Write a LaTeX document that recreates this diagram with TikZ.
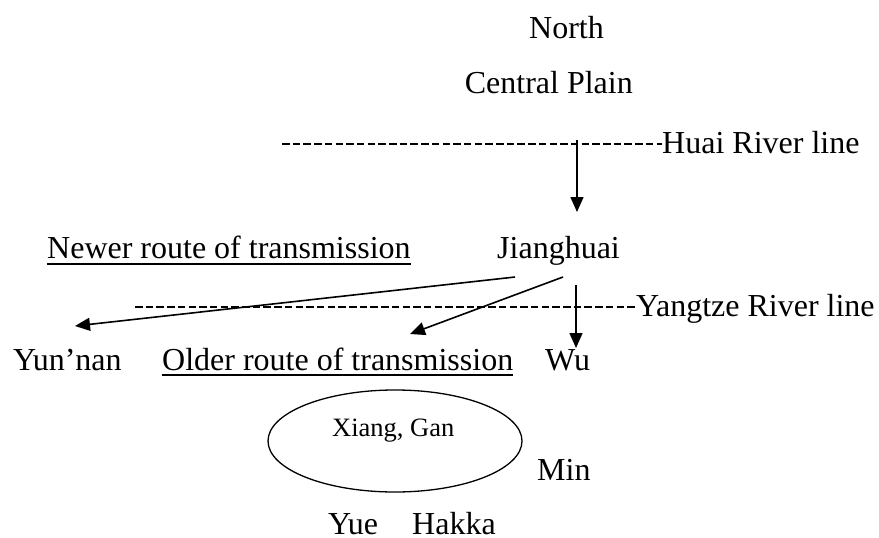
\documentclass[tikz,border=0pt]{standalone}
\usepackage{fontspec}
\setmainfont{Liberation Serif}
\usetikzlibrary{arrows.meta, shapes.geometric}

\begin{document}
\begin{tikzpicture}[x=1pt, y=-1pt,
  lbl/.style={anchor=base west, inner sep=0pt, font=\fontsize{32}{38}\selectfont},
  river/.style={line width=2pt, dash pattern=on 7.5pt off 3.2pt},
  uline/.style={line width=1.8pt},
  arr/.style={line width=1.6pt, -{Triangle[width=13pt,length=15pt]}},
  area/.style={ellipse, draw, line width=1.3pt, minimum width=254pt, minimum height=102pt, inner sep=0pt}
]
  \useasboundingbox (0,0) rectangle (879,538);

  % North
  \node[lbl] (north) at (529, 38) {North};
  \node[lbl, anchor=base east] (plain) at (633, 93) {Central Plain};

  % Huai River
  \coordinate (huaistart) at (282, 144);
  \node[lbl] (huai) at (662, 153) {Huai River line};
  \draw[river] (huaistart) -- (huai.west |- huaistart);

  % Jianghuai
  \node[lbl] (newer) at (47, 258) {Newer route of transmission};
  \draw[uline] ([yshift=-6pt]newer.base west) -- ([yshift=-6pt]newer.base east);
  \node[lbl] (jh) at (497, 258) {Jianghuai};
  \coordinate (huaidown) at (577, 140);
  \coordinate (jhtop) at (577, 212);
  \draw[arr] (huaidown) -- (jhtop);

  % Yangtze River
  \coordinate (yzstart) at (135, 307);
  \node[lbl] (yangtze) at (636, 316) {Yangtze River line};
  \draw[river] (yzstart) -- (yangtze.west |- yzstart);

  % South
  \node[lbl] (yunnan) at (13, 370) {Yun’nan};
  \node[lbl] (older) at (162, 370) {Older route of transmission};
  \draw[uline] ([yshift=-5pt]older.base west) -- ([yshift=-5pt]older.base east);
  \node[lbl] (wu) at (545, 370) {Wu};

  \coordinate (jhleft) at (515, 277);
  \coordinate (jhmid) at (563, 277);
  \coordinate (jhright) at (576, 285);
  \coordinate (yntip) at (75, 326);
  \coordinate (oldtip) at (410, 334);
  \coordinate (wutip) at (576, 348);
  \draw[arr] (jhleft) -- (yntip);
  \draw[arr] (jhmid) -- (oldtip);
  \draw[arr] (jhright) -- (wutip);

  \node[area] (xianggan) at (395, 441) {};
  \node[lbl, font=\fontsize{26.5}{32}\selectfont] (xg) at (332, 436) {Xiang, Gan};
  \node[lbl] (min) at (537, 480) {Min};
  \node[lbl] (yue) at (328, 534) {Yue};
  \node[lbl] (hakka) at (412, 534) {Hakka};
\end{tikzpicture}
\end{document}
